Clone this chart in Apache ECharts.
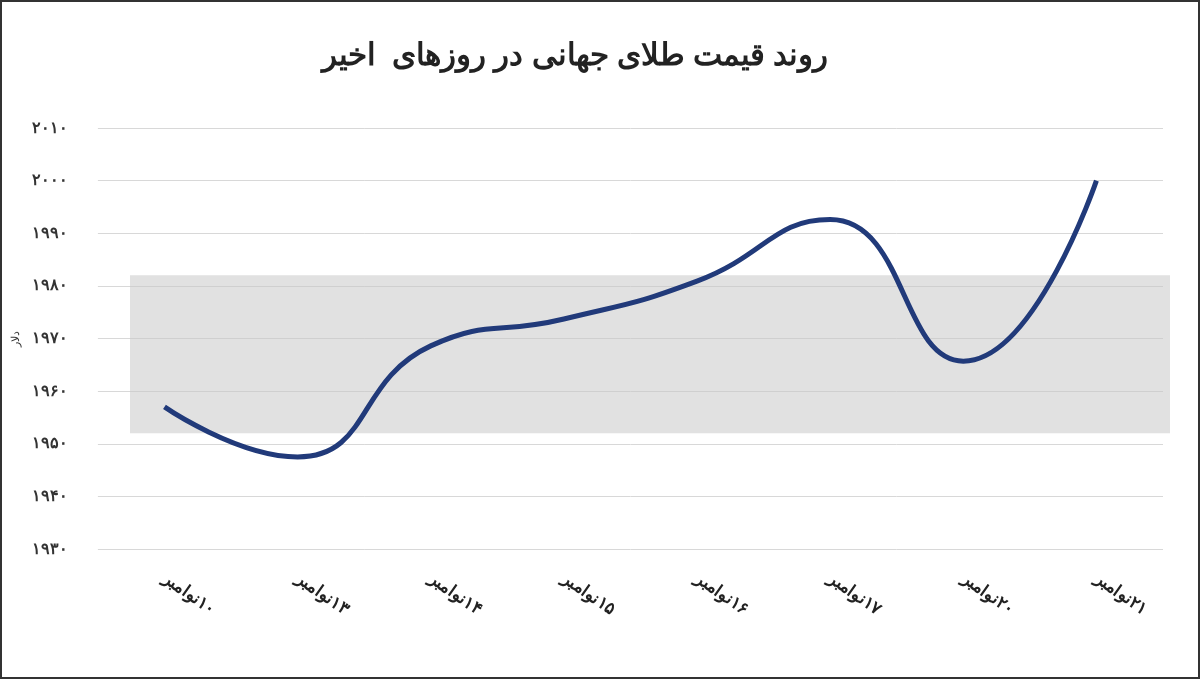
<!DOCTYPE html>
<html><head><meta charset="utf-8">
<script src="https://cdn.jsdelivr.net/npm/echarts@6/dist/echarts.min.js"></script>
<style>html,body{margin:0;padding:0;background:#fff}#c{width:1200px;height:679px;box-sizing:border-box;border:2px solid #333}</style>
</head><body><div id="c"></div>
<script>
const categories = ['نوامبر\u200E۱۰','نوامبر\u200E۱۳','نوامبر\u200E۱۴','نوامبر\u200E۱۵','نوامبر\u200E۱۶','نوامبر\u200E۱۷','نوامبر\u200E۲۰','نوامبر\u200E۲۱'];
const prices = [1957, 1947.5, 1968.6, 1973.7, 1980.9, 1992.6, 1965.7, 2000];
const yTicks = {1930:'۱۹۳۰',1940:'۱۹۴۰',1950:'۱۹۵۰',1960:'۱۹۶۰',1970:'۱۹۷۰',1980:'۱۹۸۰',1990:'۱۹۹۰',2000:'۲۰۰۰',2010:'۲۰۱۰'};
const band = [1952, 1982];
const chart = echarts.init(document.getElementById('c'));
chart.setOption({
  title:{text:'روند قیمت طلای جهانی در روزهای  اخیر',left:568,top:34,textAlign:'center',
    textStyle:{fontFamily:'Noto Sans',fontWeight:'bold',fontSize:31,color:'#222'}},
  grid:{left:95,right:35,top:126,bottom:128},
  xAxis:{type:'category',boundaryGap:true,data:categories,
    axisLine:{show:false},axisTick:{show:false},
    axisLabel:{rotate:-35,margin:28,fontFamily:'Noto Sans',fontWeight:'bold',fontSize:17,color:'#222'}},
  yAxis:{type:'value',min:1930,max:2010,interval:10,name:'دلار',nameLocation:'middle',nameGap:75,nameRotate:90,
    nameTextStyle:{fontFamily:'Noto Sans',fontSize:11,color:'#333'},
    axisLabel:{formatter:v=>yTicks[v],fontFamily:'Noto Sans',fontWeight:'bold',fontSize:16,color:'#333',margin:30},
    splitLine:{lineStyle:{color:'#d8d8d8'}}},
  series:[{type:'line',data:prices,smooth:0.5,symbol:'none',
    lineStyle:{color:'#213a7a',width:5},
    markArea:{silent:true,itemStyle:{color:'rgba(200,200,200,0.55)'},data:[[{yAxis:band[0],x:128},{yAxis:band[1],x:1168}]]}}]
});
</script></body></html>
